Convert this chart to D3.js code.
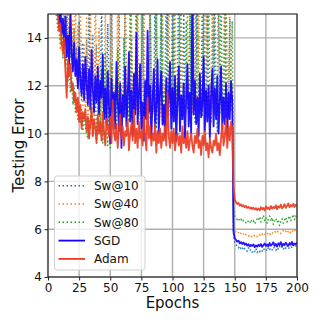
<!DOCTYPE html>
<html>
<head>
<meta charset="utf-8">
<script src="https://cdn.jsdelivr.net/npm/d3@7"></script>
<style>
  body { margin: 0; background: #fff; }
  svg { display: block; font-family: 'DejaVu Sans', sans-serif; }
</style>
</head>
<body>
<svg id="chart" width="323" height="324"></svg>
<script>
// epochs 1..200
const epochs = d3.range(1, 201)

const sw10 = [
	25, 22, 20, 18.5, 17.4, 16.6, 16.0, 15.6, 15.2, 14.8,
	15.4, 14.2, 14.9, 13.6, 15.1, 13.9, 14.5, 13.2, 14.0, 12.8,
	14.4, 12.5, 13.6, 12.0, 14.7, 12.3, 11.4, 13.8, 12.6, 11.8,
	13.9, 12.1, 15.3, 11.6, 12.8, 14.1, 11.2, 12.9, 13.7, 10.9,
	12.4, 11.6, 15.6, 11.8, 11.2, 10.7, 12.0, 14.6, 11.3, 11.5,
	16.2, 11.5, 10.6, 11.9, 12.2, 11.0, 15.8, 11.4, 10.9, 11.6,
	11.7, 16.4, 11.1, 10.8, 11.5, 11.4, 13.9, 11.2, 11.1, 10.8,
	16.8, 10.5, 11.4, 11.9, 11.2, 15.1, 10.4, 11.5, 12.3, 11.0,
	10.6, 14.9, 11.5, 10.9, 11.3, 16.1, 10.2, 11.8, 11.4, 11.6,
	15.2, 10.3, 11.6, 11.9, 16.6, 11.4, 10.8, 11.7, 11.5, 15.4,
	11.2, 10.5, 11.8, 12.1, 16.9, 11.0, 10.9, 10.7, 15.0, 11.4,
	11.4, 11.8, 10.9, 15.2, 11.3, 11.8, 11.6, 10.4, 15.7, 11.2,
	11.1, 11.5, 10.6, 16.7, 11.3, 11.9, 10.8, 15.3, 11.7, 11.2,
	10.5, 11.8, 16.0, 11.3, 11.6, 10.1, 15.6, 11.4, 11.7, 10.9,
	11.1, 16.4, 11.2, 11.3, 10.7, 14.8, 11.0, 11.5,
	5.8, 5.42, 5.35, 5.28, 5.22, 5.30, 5.18, 5.25, 5.12, 5.20,
	5.15, 5.08, 5.22, 5.10, 5.16, 5.04, 5.12, 5.06, 5.18, 5.02,
	5.10, 5.05, 5.14, 5.08, 5.20, 5.12, 5.17, 5.09, 5.24, 5.15,
	5.21, 5.13, 5.26, 5.18, 5.11, 5.23, 5.16, 5.28, 5.19, 5.25,
	5.14, 5.27, 5.20, 5.31, 5.17, 5.24, 5.29, 5.21, 5.33, 5.26,
	5.30, 5.22
]

const sw40 = [
	26, 23, 20.5, 18.8, 17.5, 16.5, 15.7, 15.0, 14.2, 13.5,
	14.6, 13.2, 15.4, 12.8, 14.1, 16.2, 13.0, 15.5, 12.4, 14.8,
	13.3, 16.0, 12.2, 14.5, 11.6, 15.2, 12.9, 11.1, 13.7, 10.5,
	14.9, 9.8, 12.6, 15.8, 11.4, 13.5, 10.8, 16.3, 12.0, 11.3,
	14.4, 10.6, 11.9, 11.2, 11.0, 15.8, 10.4, 11.5, 11.3, 11.7,
	16.1, 10.2, 11.9, 11.5, 11.2, 16.8, 10.7, 11.3, 11.9, 11.0,
	11.8, 16.1, 10.5, 11.9, 11.6, 11.7, 15.1, 10.3, 11.4, 11.7,
	11.0, 16.3, 11.5, 10.6, 11.6, 11.8, 16.2, 10.9, 11.8, 11.4,
	11.3, 16.2, 11.0, 10.8, 11.1, 12.6, 16.7, 11.1, 11.9, 10.7,
	11.6, 15.4, 11.5, 11.9, 11.3, 10.9, 16.0, 11.2, 11.9, 11.4,
	11.1, 16.7, 10.6, 11.6, 12.0, 11.5, 15.7, 11.8, 11.1, 10.8,
	12.5, 15.2, 11.9, 11.3, 11.8, 10.9, 16.2, 11.6, 11.5, 11.8,
	16.4, 11.1, 11.5, 11.6, 11.9, 10.7, 16.4, 11.2, 11.8, 11.0,
	12.2, 15.7, 10.9, 11.6, 11.5, 11.4, 16.8, 11.3, 11.3, 11.0,
	11.7, 16.0, 11.6, 11.4, 12.1, 15.1, 11.3, 12.0,
	6.3, 5.95, 5.88, 5.82, 5.86, 5.78, 5.83, 5.75, 5.80, 5.72,
	5.78, 5.74, 5.70, 5.76, 5.68, 5.73, 5.77, 5.71, 5.75, 5.69,
	5.74, 5.78, 5.72, 5.80, 5.76, 5.82, 5.74, 5.79, 5.85, 5.77,
	5.83, 5.88, 5.80, 5.86, 5.90, 5.84, 5.92, 5.87, 5.82, 5.89,
	5.94, 5.86, 5.91, 5.97, 5.88, 5.93, 5.85, 5.95, 5.90, 5.98,
	5.92, 5.87
]

const sw80 = [
	24, 20.5, 18.2, 16.9, 15.9, 15.2, 14.8, 14.3, 14.9, 13.8,
	14.4, 13.1, 14.2, 12.9, 13.5, 12.2, 12.8, 11.7, 12.4, 11.2,
	11.9, 10.9, 11.5, 10.6, 11.3, 10.4, 11.0, 10.1, 10.7, 10.3,
	10.0, 9.8, 10.6, 10.2, 11.4, 9.9, 10.5, 12.1, 9.7, 10.8,
	11.6, 10.1, 12.7, 9.6, 10.9, 13.4, 10.3, 9.5, 11.8, 9.4,
	12.9, 10.6, 11.1, 11.0, 9.8, 13.6, 10.9, 10.4, 11.3, 11.1,
	14.0, 10.7, 11.8, 11.0, 10.5, 16.1, 11.6, 11.2, 10.9, 11.5,
	15.4, 11.2, 11.3, 10.8, 11.9, 16.1, 11.5, 10.6, 11.2, 11.7,
	11.3, 16.6, 11.0, 11.8, 11.1, 10.9, 15.5, 11.3, 11.4, 11.9,
	16.9, 10.7, 11.8, 11.2, 11.3, 15.4, 11.2, 11.9, 11.0, 10.8,
	15.6, 11.2, 12.0, 11.1, 11.5, 16.5, 10.6, 11.0, 11.5, 11.6,
	14.7, 11.0, 11.4, 10.9, 16.8, 11.2, 11.5, 11.1, 11.7, 16.7,
	11.3, 11.6, 11.9, 10.7, 15.6, 11.4, 11.3, 11.8, 16.3, 11.4,
	10.9, 12.0, 11.5, 16.8, 11.7, 11.9, 11.1, 10.8, 15.8, 11.6,
	11.0, 11.4, 16.5, 11.7, 10.9, 11.2, 12.8, 14.7,
	6.9, 6.55, 6.48, 6.40, 6.46, 6.35, 6.42, 6.30, 6.38, 6.33,
	6.27, 6.36, 6.31, 6.24, 6.40, 6.29, 6.35, 6.22, 6.33, 6.45,
	6.38, 6.52, 6.30, 6.44, 6.58, 6.36, 6.47, 6.26, 6.41, 6.55,
	6.33, 6.49, 6.20, 6.37, 6.45, 6.28, 6.40, 6.15, 6.32, 6.43,
	6.25, 6.38, 6.50, 6.30, 6.44, 6.56, 6.35, 6.48, 6.62, 6.40,
	6.55, 6.45
]

const sgd = [
	22, 20, 18.6, 17.5, 16.7, 16.1, 15.6, 15.2, 14.6, 15.3,
	14.2, 14.8, 13.6, 14.9, 13.2, 14.1, 12.9, 15.2, 13.4, 12.6,
	13.8, 12.4, 13.1, 11.9, 13.6, 12.2, 11.6, 12.9, 11.4, 13.2,
	12.1, 11.2, 12.7, 11.0, 13.5, 11.8, 10.9, 12.4, 11.3, 12.8,
	10.8, 12.2, 11.5, 13.3, 10.6, 11.9, 10.4, 12.6, 11.1, 9.6,
	12.3, 10.9, 11.7, 10.2, 13.0, 11.4, 10.1, 12.1, 9.4, 11.6,
	10.7, 12.8, 10.3, 11.5, 13.4, 10.5, 11.8, 9.9, 12.5, 10.8,
	14.2, 10.4, 11.6, 12.9, 10.2, 11.3, 9.7, 12.2, 10.6, 14.3,
	10.9, 12.0, 9.8, 11.4, 12.7, 10.3, 11.1, 13.1, 10.0, 11.7,
	12.6, 10.4, 11.2, 9.9, 12.3, 10.7, 11.5, 13.0, 10.2, 11.9,
	10.5, 12.4, 9.7, 11.3, 12.8, 10.1, 11.6, 10.6, 12.1, 9.8,
	11.4, 12.9, 10.3, 11.7, 10.0, 16.5, 10.8, 12.2, 10.4, 11.5,
	9.9, 12.5, 10.7, 11.2, 13.2, 10.1, 11.8, 10.5, 12.0, 9.8,
	11.6, 12.7, 10.3, 11.9, 10.6, 12.4, 10.0, 11.3, 12.8, 10.2,
	11.5, 10.4, 12.1, 9.9, 11.7, 10.6, 12.2, 11.4,
	5.9, 5.62, 5.55, 5.48, 5.52, 5.41, 5.46, 5.38, 5.44, 5.35,
	5.40, 5.31, 5.37, 5.28, 5.34, 5.30, 5.36, 5.25, 5.32, 5.27,
	5.35, 5.29, 5.38, 5.26, 5.33, 5.40, 5.30, 5.36, 5.28, 5.42,
	5.31, 5.37, 5.45, 5.30, 5.38, 5.27, 5.41, 5.34, 5.46, 5.29,
	5.39, 5.33, 5.44, 5.36, 5.30, 5.42, 5.35, 5.47, 5.32, 5.40,
	5.37, 5.43
]

const adam = [
	24, 21, 19, 17.6, 16.6, 15.8, 15.3, 14.9, 14.3, 14.6,
	13.8, 13.4, 14.0, 12.6, 11.5, 13.1, 12.4, 12.9, 11.8, 12.1,
	11.3, 11.7, 10.9, 11.5, 10.5, 11.2, 10.2, 10.9, 10.6, 11.0,
	10.1, 10.7, 9.8, 10.4, 11.1, 9.9, 10.6, 10.2, 9.6, 10.8,
	10.0, 10.5, 9.7, 10.9, 10.1, 9.5, 10.6, 10.3, 9.9, 10.7,
	9.6, 11.4, 10.0, 9.7, 10.4, 9.4, 10.2, 10.8, 9.8, 10.3,
	9.5, 10.1, 9.9, 10.6, 9.3, 10.0, 10.4, 9.7, 11.0, 9.6,
	10.2, 9.4, 10.5, 9.8, 10.1, 9.5, 10.7, 9.9, 9.3, 11.5,
	9.8, 10.3, 9.5, 10.0, 9.7, 10.4, 9.2, 10.1, 9.6, 10.2,
	9.4, 10.0, 9.7, 10.3, 9.5, 11.7, 9.9, 9.4, 10.1, 9.6,
	10.2, 9.3, 9.8, 10.0, 9.5, 9.9, 9.2, 10.3, 9.6, 9.8,
	9.4, 10.1, 9.3, 9.7, 10.0, 9.5, 9.2, 9.9, 9.6, 10.2,
	9.4, 9.7, 9.1, 9.9, 9.5, 10.1, 9.3, 9.6, 9.0, 9.8,
	9.4, 9.2, 9.7, 9.5, 10.0, 9.3, 9.6, 9.1, 9.8, 10.4,
	9.5, 9.9, 10.6, 9.4, 10.3, 9.7, 10.5, 10.2,
	7.8, 7.25, 7.12, 7.05, 7.10, 6.98, 7.04, 6.95, 7.00, 6.92,
	6.97, 6.89, 6.94, 6.86, 6.91, 6.84, 6.90, 6.82, 6.88, 6.80,
	6.87, 6.79, 6.92, 6.83, 6.89, 6.78, 6.95, 6.85, 6.91, 6.82,
	6.97, 6.86, 6.93, 6.88, 7.00, 6.84, 6.96, 6.90, 7.03, 6.87,
	6.94, 7.05, 6.89, 6.98, 7.08, 6.92, 7.01, 6.95, 7.06, 6.93,
	7.02, 6.97
]

const seriesNames = ['Sw@10', 'Sw@40', 'Sw@80', 'SGD', 'Adam']
const seriesValues = [sw10, sw40, sw80, sgd, adam]
const xTicks = [0, 25, 50, 75, 100, 125, 150, 175, 200]
const yTicks = [4, 6, 8, 10, 12, 14]

// look of each series (same order as names)
const colors = ['#1f77b4', '#ff7f0e', '#2ca02c', '#1400ff', '#ec3b22']
const dashes = ['1.5,2.5', '1.5,2.5', '1.5,2.5', null, null]
const widths = [1.5, 1.5, 1.5, 1.8, 1.8]

const width = 323, height = 324
const margin = { top: 14, right: 26, bottom: 47, left: 48 }

const svg = d3.select('#chart')

const x = d3.scaleLinear()
	.domain([0, 200])
	.range([margin.left, width - margin.right])

const y = d3.scaleLinear()
	.domain([4, 15])
	.range([height - margin.bottom, margin.top])

// grid
svg.append('g')
	.selectAll('line')
	.data(xTicks)
	.join('line')
	.attr('x1', d => x(d)).attr('x2', d => x(d))
	.attr('y1', y(4)).attr('y2', y(15))
	.attr('stroke', '#b0b0b0')
	.attr('stroke-width', 1.4)

svg.append('g')
	.selectAll('line')
	.data(yTicks)
	.join('line')
	.attr('x1', x(0)).attr('x2', x(200))
	.attr('y1', d => y(d)).attr('y2', d => y(d))
	.attr('stroke', '#b0b0b0')
	.attr('stroke-width', 1.4)

svg.append('clipPath')
	.attr('id', 'plotclip')
	.append('rect')
	.attr('x', x(0)).attr('y', y(15))
	.attr('width', x(200) - x(0))
	.attr('height', y(4) - y(15))

const line = d3.line()
	.x((d, i) => x(epochs[i]))
	.y(d => y(d))

// Draw lines
const lines = svg.append('g').attr('clip-path', 'url(#plotclip)')
seriesValues.forEach((vals, k) => {
	lines.append('path')
		.datum(vals)
		.attr('d', line)
		.attr('fill', 'none')
		.attr('stroke', colors[k])
		.attr('stroke-width', widths[k])
		.attr('stroke-dasharray', dashes[k])
		.attr('stroke-linejoin', 'round')
		.attr('opacity', k < 3 ? 0.95 : 0.92)
})

// axes
const xAxis = svg.append('g')
	.attr('transform', 'translate(0,' + y(4) + ')')
	.call(d3.axisBottom(x).tickValues(xTicks).tickSize(3.5).tickPadding(2.5).tickSizeOuter(0))
const yAxis = svg.append('g')
	.attr('transform', 'translate(' + x(0) + ',0)')
	.call(d3.axisLeft(y).tickValues(yTicks).tickSize(3.5).tickPadding(2.5).tickSizeOuter(0))

;[xAxis, yAxis].forEach(a => {
	a.select('.domain').remove()
	a.selectAll('text').attr('font-size', 12).attr('fill', '#111').attr('font-family', 'DejaVu Sans')
	a.selectAll('line').attr('stroke', '#222').attr('stroke-width', 1)
})

// frame
svg.append('rect')
	.attr('x', x(0)).attr('y', y(15))
	.attr('width', x(200) - x(0))
	.attr('height', y(4) - y(15))
	.attr('fill', 'none')
	.attr('stroke', '#222')
	.attr('stroke-width', 1.1)

svg.append('text')
	.attr('x', (x(0) + x(200)) / 2)
	.attr('y', 308)
	.attr('text-anchor', 'middle')
	.attr('font-size', 15)
	.attr('fill', '#111')
	.text('Epochs')

svg.append('text')
	.attr('transform', 'translate(23.5,' + ((y(4) + y(15)) / 2) + ') rotate(-90)')
	.attr('text-anchor', 'middle')
	.attr('font-size', 15)
	.attr('fill', '#111')
	.text('Testing Error')

// legend
const legend = svg.append('g')
legend.append('rect')
	.attr('x', 54.5).attr('y', 176)
	.attr('width', 90.5).attr('height', 94)
	.attr('rx', 2.5)
	.attr('fill', 'white').attr('fill-opacity', 0.8)
	.attr('stroke', '#d0d0d0')
	.attr('stroke-width', 1)

seriesNames.forEach((name, k) => {
	const ly = 185.7 + k * 18.3
	legend.append('line')
		.attr('x1', 58.5).attr('x2', 85)
		.attr('y1', ly).attr('y2', ly)
		.attr('stroke', colors[k])
		.attr('stroke-width', widths[k])
		.attr('stroke-dasharray', dashes[k])
	legend.append('text')
		.attr('x', 94)
		.attr('y', ly)
		.attr('dy', '0.36em')
		.attr('font-size', 12)
		.attr('fill', '#111')
		.text(name)
})
</script>
</body>
</html>
